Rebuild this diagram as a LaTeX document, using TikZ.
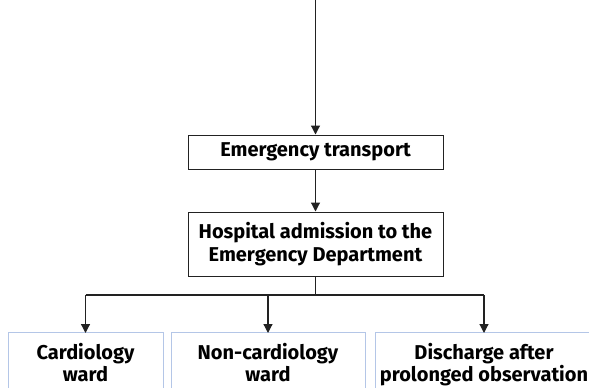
\documentclass[tikz,border=0pt]{standalone}
\usepackage{fontspec}
\setmainfont{Fira Sans}
\usetikzlibrary{arrows.meta}
\definecolor{linegray}{HTML}{222222}
\definecolor{wardblue}{HTML}{B4C6E7}
\begin{document}
\begin{tikzpicture}[x=1pt,y=-1pt,
  every node/.style={font=\bfseries\fontsize{20}{22.5}\selectfont, text=black},
  flowbox/.style={draw=linegray, line width=1pt, rectangle, minimum width=255pt, inner sep=0pt, align=center},
  wardbox/.style={draw=wardblue, line width=1pt, rectangle, minimum height=80pt, inner sep=0pt, anchor=north},
  wardtext/.style={anchor=north, align=center, inner sep=0pt},
  flow/.style={draw=linegray, line width=1.2pt, -{Triangle[length=9pt,width=9pt]}},
  link/.style={draw=linegray, line width=1.2pt}]
\useasboundingbox (0,0) rectangle (589,388);

% main chain
\coordinate (start) at (315.5,-2);
\node[flowbox, minimum height=34pt] (transport) at (315.5,152) {Emergency transport};
\node[flowbox, minimum height=64pt] (admission) at (315.5,244) {Hospital admission to the\\Emergency Department};

% outcome boxes
\node[wardbox, minimum width=155pt] (cardio) at (85.5,332) {};
\node[wardbox, minimum width=194pt] (noncardio) at (268,332) {};
\node[wardbox, minimum width=218pt] (discharge) at (484,332) {};
\node[wardtext] (cardiotext) at (85.5,343) {Cardiology\\ward};
\node[wardtext] (noncardiotext) at (268,343) {Non-cardiology\\ward};
\node[wardtext] (dischargetext) at (484,343) {Discharge after\\prolonged observation};

% branching
\coordinate (split) at (admission.south |- 0,295);
\coordinate (leftend) at (cardio.north |- 0,295);
\coordinate (rightend) at (discharge.north |- 0,295);

\draw[flow] (start) -- (transport.north);
\draw[flow] (transport.south) -- (admission.north);
\draw[link] (admission.south) -- (split);
\draw[link] (leftend) -- (rightend);
\draw[flow] (leftend) -- ([yshift=-1pt]cardio.north);
\draw[flow] (noncardio.north |- split) -- ([yshift=-1pt]noncardio.north);
\draw[flow] (rightend) -- ([yshift=-1pt]discharge.north);
\end{tikzpicture}
\end{document}
